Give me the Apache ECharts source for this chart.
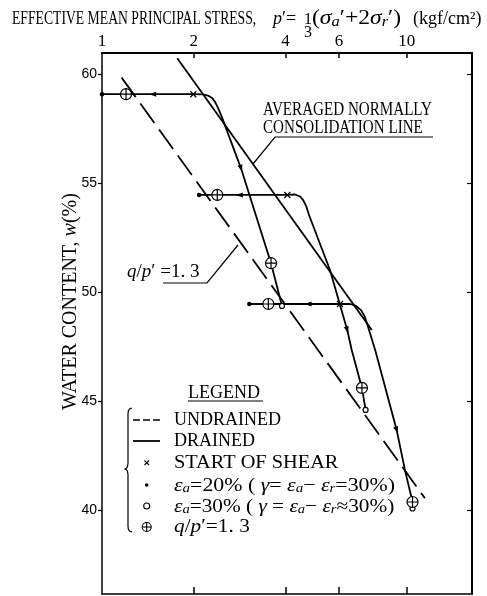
<!DOCTYPE html>
<html>
<head>
<meta charset="utf-8">
<script src="https://cdn.jsdelivr.net/npm/echarts@6/dist/echarts.min.js"></script>
<style>
  html, body { margin: 0; padding: 0; background: #fff; }
  #chart { width: 487px; height: 596px; }
</style>
</head>
<body>
<div id="chart"></div>
<script>
// axis ticks
const xLabelValues = [1, 2, 4, 6, 10]
const xTickValues = [2, 4, 6, 10]
const yTickValues = [40, 45, 50, 55, 60]

// [p' (kgf/cm2), w (%)]
const nclLine = [[1.766, 60.72], [7.68, 48.26]]
const undrainedLine = [[1.16, 59.83], [11.48, 40.54]]

// each path: undrained part at constant w, start of shear, then drained branch
const pathA = [
  [1.0, 59.07], [1.199, 59.07], [1.467, 59.07], [1.994, 59.07], [2.145, 59.06], [2.228, 59.01],
  [2.296, 58.9], [2.349, 58.72], [2.403, 58.44], [2.471, 58.04], [2.859, 55.67], [3.587, 51.32], [3.897, 49.36],
]
const pathB = [
  [2.082, 54.45], [2.39, 54.45], [2.822, 54.45], [4.057, 54.45], [4.3, 54.47], [4.47, 54.38],
  [4.58, 54.2], [4.69, 53.9], [4.78, 53.53], [5.6, 51.01], [6.38, 48.26], [6.6, 47.34], [7.13, 45.6], [7.33, 44.59],
]
const pathC = [
  [3.044, 49.45], [3.515, 49.45], [4.745, 49.45], [6.04, 49.45], [6.52, 49.45], [6.82, 49.36],
  [7.08, 49.17], [7.27, 48.9], [7.41, 48.55], [7.88, 47.34], [9.27, 43.67], [9.87, 41.83], [10.45, 40.37], [10.45, 40.07],
]

// markers
const startOfShear = [[1.994, 59.07], [4.057, 54.45], [6.04, 49.45]]
const strain20 = [[1.0, 59.07], [2.082, 54.45], [3.044, 49.45]]
const strain30 = [[3.897, 49.36], [7.33, 44.59], [10.45, 40.07]]
const qp13 = [[1.199, 59.07], [2.39, 54.45], [3.515, 49.45], [3.587, 51.32], [7.13, 45.6], [10.45, 40.37]]
const arrowsLeft = [[1.467, 59.07], [2.822, 54.45], [4.745, 49.45]]
const arrowsDown = [[2.859, 55.67], [6.38, 48.26], [9.27, 43.67]]

const SERIF = 'Liberation Serif'
const SANS = 'Liberation Sans'
const crossSymbol = 'path://M0,0L10,10M10,0L0,10'
const oplusSymbol = 'path://M10,0A10,10 0 1 1 10,20A10,10 0 1 1 10,0ZM10,0L10,20M0,10L20,10'

const chart = echarts.init(document.getElementById('chart'), null, { renderer: 'canvas' })

const pathLine = (data, type, width) => ({
  type: 'line',
  data,
  symbol: 'none',
  silent: true,
  lineStyle: { color: '#000', width, type },
  z: 2,
})

const markers = (data, symbol, size, fill, rotate) => ({
  type: 'scatter',
  data,
  symbol,
  symbolSize: size,
  symbolRotate: rotate || 0,
  silent: true,
  itemStyle: { color: fill, borderColor: '#000', borderWidth: fill === '#000' ? 0 : 1.2, opacity: 1 },
  z: 4,
})

const txt = (x, y, text, size, opts = {}) => ({
  type: 'text',
  x,
  y,
  scaleX: opts.scaleX || 1,
  style: {
    text,
    x: 0,
    y: 0,
    fill: '#000',
    fontFamily: opts.family || SERIF,
    fontSize: size,
    fontStyle: opts.italic ? 'italic' : 'normal',
    align: opts.align || 'left',
    textAlign: opts.align || 'left',
    verticalAlign: 'middle',
    textVerticalAlign: 'middle',
    rich: {
      i: { fontFamily: SERIF, fontSize: size, fontStyle: 'italic' },
      s: { fontFamily: SERIF, fontSize: Math.round(size * (opts.sub || 0.62)), fontStyle: 'italic', verticalAlign: 'bottom' },
    },
  },
})

const seg = (pts, width, dash) => ({
  type: 'polyline',
  shape: { points: pts },
  style: { stroke: '#000', lineWidth: width, fill: null, lineDash: dash || null },
})

const option = {
  backgroundColor: '#fff',
  animation: false,
  grid: { left: 102, top: 53, width: 370, height: 541 },
  xAxis: [
    {
      type: 'log',
      logBase: 10,
      min: 1,
      max: 16.38,
      position: 'top',
      axisLine: { show: true, lineStyle: { color: '#000', width: 2 } },
      axisTick: { show: true, inside: true, length: 5, customValues: xTickValues, lineStyle: { color: '#000', width: 1.5 } },
      axisLabel: {
        show: true,
        customValues: xLabelValues,
        margin: 3,
        formatter: (v) => String(Math.round(v)),
        color: '#000',
        fontFamily: SERIF,
        fontSize: 17,
      },
      splitLine: { show: false },
    },
    {
      type: 'log',
      logBase: 10,
      min: 1,
      max: 16.38,
      position: 'bottom',
      axisLine: { show: true, lineStyle: { color: '#000', width: 1.5 } },
      axisTick: { show: true, inside: true, length: 7, customValues: xTickValues, lineStyle: { color: '#000', width: 1.5 } },
      axisLabel: { show: false },
      splitLine: { show: false },
    },
  ],
  yAxis: [
    {
      type: 'value',
      min: 36.15,
      max: 60.96,
      position: 'left',
      name: 'WATER CONTENT, {i|w}(%)',
      nameLocation: 'middle',
      nameRotate: 90,
      nameGap: 21,
      nameMoveOverlap: false,
      nameTextStyle: {
        color: '#000',
        fontFamily: SERIF,
        fontSize: 20,
        padding: [0, 0, 0, 44],
        rich: { i: { fontFamily: SERIF, fontSize: 20, fontStyle: 'italic', color: '#000' } },
      },
      axisLine: { show: true, lineStyle: { color: '#000', width: 1.5 } },
      axisTick: { show: true, inside: false, length: 4, customValues: yTickValues, lineStyle: { color: '#000', width: 1.2 } },
      axisLabel: { show: true, customValues: yTickValues, margin: 5, color: '#000', fontFamily: SANS, fontSize: 14 },
      splitLine: { show: false },
    },
    {
      type: 'value',
      min: 36.15,
      max: 60.96,
      position: 'right',
      axisLine: { show: true, lineStyle: { color: '#000', width: 2 } },
      axisTick: { show: true, inside: true, length: 5, customValues: yTickValues, lineStyle: { color: '#000', width: 1.2 } },
      axisLabel: { show: false },
      splitLine: { show: false },
    },
  ],
  series: [
    pathLine(nclLine, 'solid', 1.8),
    pathLine(undrainedLine, [24, 8], 1.8),
    pathLine(pathA, 'solid', 1.8),
    pathLine(pathB, 'solid', 1.8),
    pathLine(pathC, 'solid', 1.8),
    markers(arrowsLeft, 'triangle', [5, 7], '#000', 90),
    markers(arrowsDown, 'triangle', [5, 7], '#000', 197),
    markers(startOfShear, crossSymbol, 6, 'none'),
    markers(strain20, 'circle', 4.5, '#000'),
    markers(strain30, 'circle', 5, '#fff'),
    markers(qp13, oplusSymbol, 11, '#fff'),
  ],
  graphic: [
    // title
    txt(12, 19, 'EFFECTIVE MEAN PRINCIPAL STRESS,', 18, { scaleX: 0.76 }),
    txt(273, 19, '{i|p}′=', 18),
    txt(308, 20, '1', 16, { align: 'center' }),
    txt(308, 33, '3', 16, { align: 'center' }),
    txt(312, 19, '({i|σ}{s|a}′+2{i|σ}{s|r}′)', 20, { sub: 0.72, scaleX: 1.18 }),
    txt(413, 19, '(kgf/cm²)', 18),

    // consolidation line label
    txt(263, 110, 'AVERAGED NORMALLY', 19, { scaleX: 0.795 }),
    txt(263, 128, 'CONSOLIDATION LINE', 19, { scaleX: 0.795 }),
    seg([[253, 164], [275, 137], [433, 137]], 1.2),

    // q/p' label
    txt(127, 272, "{i|q}/{i|p}′ =1. 3", 19),
    seg([[163, 283], [207, 283], [238, 245]], 1.2),

    // legend
    txt(188, 393, 'LEGEND', 18),
    seg([[188, 401], [263, 401]], 1.2),
    seg([[132, 408], [129.5, 409], [128.3, 411], [128, 414], [128, 463], [127.5, 466.5], [126.5, 468.3], [125, 469],
      [126.5, 469.7], [127.5, 471.5], [128, 475], [128, 526], [128.3, 529], [129.5, 531], [132, 532]], 1.2),
    seg([[133, 420], [162, 420]], 1.5, [7, 3]),
    seg([[133, 441], [160, 441]], 1.8),
    seg([[144.5, 460.5], [149, 465]], 1.1),
    seg([[149, 460.5], [144.5, 465]], 1.1),
    { type: 'circle', shape: { cx: 146.7, cy: 485, r: 1.8 }, style: { fill: '#000' } },
    { type: 'circle', shape: { cx: 146.7, cy: 506, r: 3 }, style: { fill: '#fff', stroke: '#000', lineWidth: 1.1 } },
    { type: 'circle', shape: { cx: 146.7, cy: 527, r: 4.5 }, style: { fill: '#fff', stroke: '#000', lineWidth: 1.1 } },
    seg([[146.7, 522.5], [146.7, 531.5]], 1.1),
    seg([[142.2, 527], [151.2, 527]], 1.1),
    txt(174, 420, 'UNDRAINED', 18),
    txt(174, 441, 'DRAINED', 18),
    txt(174, 463, 'START OF SHEAR', 18, { scaleX: 1.13 }),
    txt(174, 486, '{i|ε}{s|a}=20% ( {i|γ}= {i|ε}{s|a}− {i|ε}{s|r}=30%)', 19, { sub: 0.7, scaleX: 1.15 }),
    txt(174, 507, '{i|ε}{s|a}=30% ( {i|γ} = {i|ε}{s|a}− {i|ε}{s|r}≈30%)', 19, { sub: 0.7, scaleX: 1.12 }),
    txt(174, 527, '{i|q}/{i|p}′=1. 3', 19, { scaleX: 1.12 }),
  ],
}

chart.setOption(option)
</script>
</body>
</html>
